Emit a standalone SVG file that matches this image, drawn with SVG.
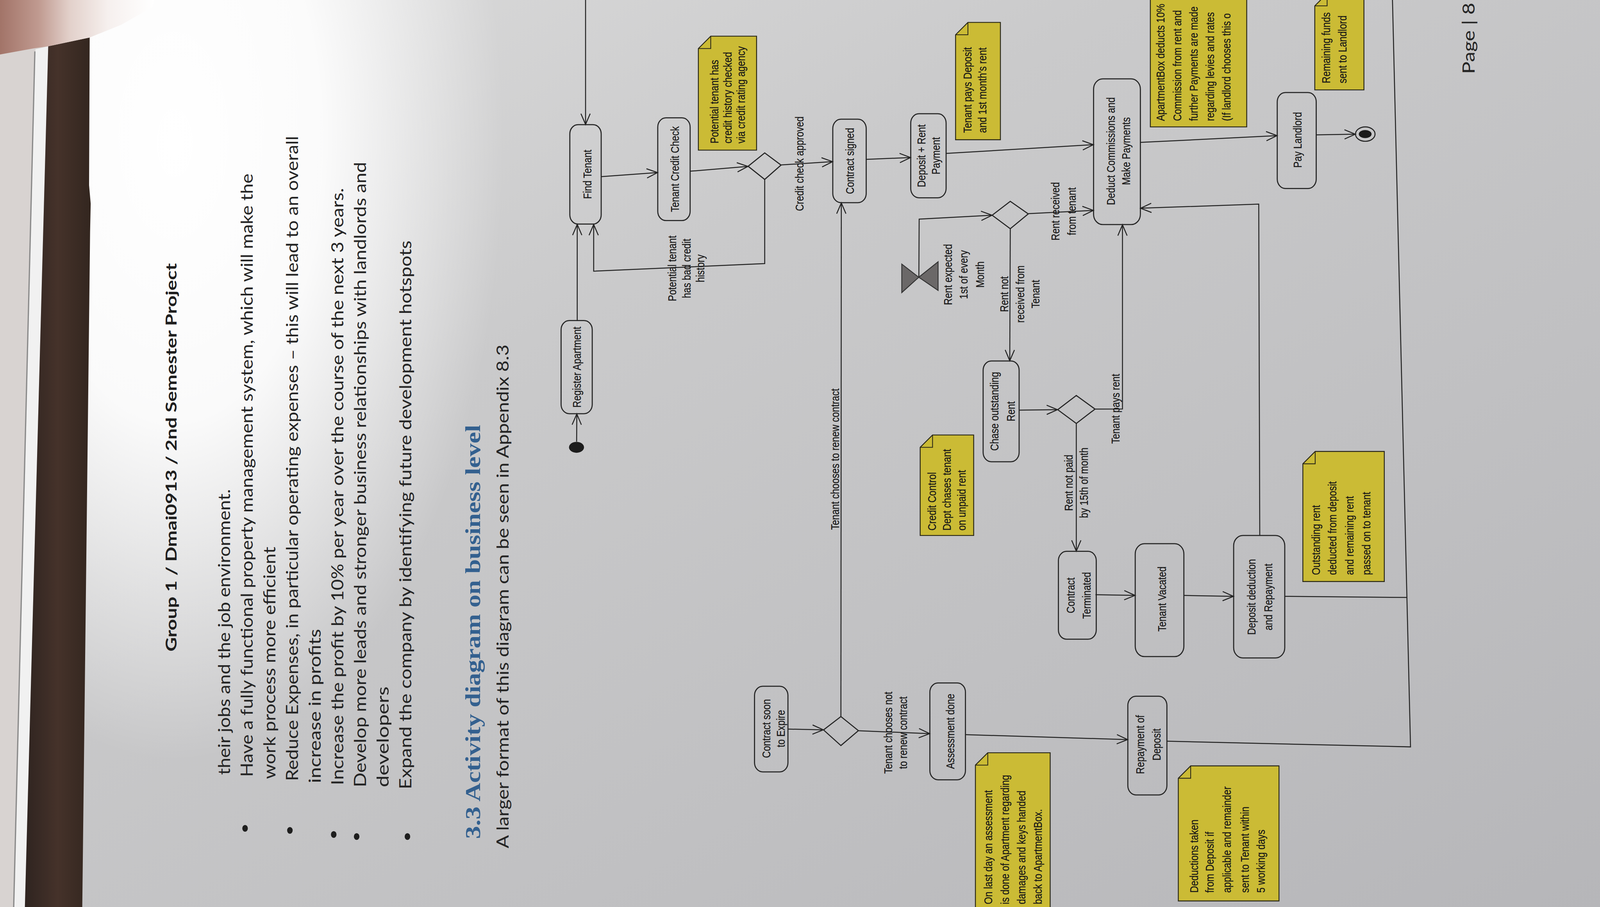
<svg xmlns="http://www.w3.org/2000/svg" width="4128" height="2322" viewBox="0 0 4128 2322">
<defs>
<style>
.nd rect{fill:none;stroke:#262626;stroke-width:1.05}
.dm{fill:none;stroke:#262626;stroke-width:1.05}
.nb{fill:#cbbb35;stroke:#2a2818;stroke-width:0.9}
.nf{fill:none;stroke:#2a2818;stroke-width:0.8}
.dt{font-family:"Liberation Sans",Arial,sans-serif;font-size:11.5px;fill:#161616;stroke:#161616;stroke-width:0.12}
.cn path{fill:none;stroke:#232323;stroke-width:0.95}
.body{font-family:Lato,"Open Sans",sans-serif;font-size:16.5px;fill:#242424}
.hdr{font-family:Lato,"Open Sans",sans-serif;font-size:14.5px;font-weight:bold;fill:#1e1e1e}
.h2{font-family:"Liberation Serif","Times New Roman",serif;font-size:21px;font-weight:bold;fill:#33608f}
</style>
<linearGradient id="paperG" x1="0" y1="0" x2="1" y2="1">
<stop offset="0" stop-color="#dedede"/>
<stop offset="0.35" stop-color="#cacacb"/>
<stop offset="1" stop-color="#b6b6b9"/>
</linearGradient>
<radialGradient id="glare" cx="0.5" cy="0.5" r="0.5">
<stop offset="0" stop-color="#ffffff" stop-opacity="1"/>
<stop offset="0.45" stop-color="#ffffff" stop-opacity="0.9"/>
<stop offset="0.75" stop-color="#ffffff" stop-opacity="0.4"/>
<stop offset="1" stop-color="#ffffff" stop-opacity="0"/>
</radialGradient>
<linearGradient id="brownG" x1="0" y1="0" x2="1" y2="0">
<stop offset="0" stop-color="#2f2420"/>
<stop offset="0.5" stop-color="#45322a"/>
<stop offset="1" stop-color="#33261f"/>
</linearGradient>
<linearGradient id="skinG" x1="0" y1="0" x2="1" y2="0">
<stop offset="0" stop-color="#a27468"/>
<stop offset="0.25" stop-color="#c09a90"/>
<stop offset="0.45" stop-color="#e2d0ca"/>
<stop offset="0.7" stop-color="#f6f0ee"/>
<stop offset="1" stop-color="#ffffff"/>
</linearGradient>
<marker id="arr" markerUnits="userSpaceOnUse" markerWidth="14" markerHeight="12" refX="10.5" refY="4.5" orient="auto" overflow="visible">
<path d="M0,0 L10.5,4.5 L0,9" fill="none" stroke="#232323" stroke-width="0.95"/>
</marker>
</defs>
<g transform="scale(2.632653)">
<g id="photo-background">
<rect x="0" y="0" width="1568" height="882" fill="url(#paperG)"/>
<ellipse cx="170" cy="140" rx="320" ry="600" fill="url(#glare)"/>
<rect x="0" y="0" width="50" height="882" fill="#d8d3d1"/>
<polygon points="34.5,48 46.9,45 24.2,882 14,882" fill="#f1f1f1"/>
<line x1="33.9" y1="50" x2="13.3" y2="882" stroke="#8a8a8a" stroke-width="1.2"/>
<polygon points="46.9,45 87.2,36.5 86.6,180 88.2,198 87.6,226 80,882 24.2,882" fill="url(#brownG)"/>
<path d="M0,0 L150,0 L148,7 L118,24 L87.2,36.5 L46.9,45 L33,47 L0,53 Z" fill="url(#skinG)"/>
</g>
<g id="text-block">
<text class="hdr" transform="translate(0,633.6) rotate(-90)" x="0" y="171.5" textLength="377.7" lengthAdjust="spacingAndGlyphs">Group 1 / Dmai0913 / 2nd Semester Project</text>
<text class="body" transform="translate(0,753.5) rotate(-90)" x="0" y="223.9" textLength="277.8" lengthAdjust="spacingAndGlyphs">their jobs and the job environment.</text>
<text class="body" transform="translate(0,755.5) rotate(-90)" x="0" y="245.9" textLength="586.7" lengthAdjust="spacingAndGlyphs">Have a fully functional property management system, which will make the</text>
<text class="body" transform="translate(0,757.5) rotate(-90)" x="0" y="267.9" textLength="225.8" lengthAdjust="spacingAndGlyphs">work process more efficient</text>
<text class="body" transform="translate(0,759.5) rotate(-90)" x="0" y="289.9" textLength="627.3" lengthAdjust="spacingAndGlyphs">Reduce Expenses, in particular operating expenses –  this will lead to an overall</text>
<text class="body" transform="translate(0,761.5) rotate(-90)" x="0" y="311.9" textLength="149.9" lengthAdjust="spacingAndGlyphs">increase in profits</text>
<text class="body" transform="translate(0,763.5) rotate(-90)" x="0" y="333.9" textLength="580.7" lengthAdjust="spacingAndGlyphs">Increase the profit by 10% per year over the course of the next 3 years.</text>
<text class="body" transform="translate(0,765.5) rotate(-90)" x="0" y="355.9" textLength="608" lengthAdjust="spacingAndGlyphs">Develop more leads and stronger business relationships with landlords and</text>
<text class="body" transform="translate(0,765.5) rotate(-90)" x="0" y="377.9" textLength="97.9" lengthAdjust="spacingAndGlyphs">developers</text>
<text class="body" transform="translate(0,767.5) rotate(-90)" x="0" y="399.9" textLength="533.6" lengthAdjust="spacingAndGlyphs">Expand the company by identifying future development hotspots</text>
<g fill="#1e1e1e">
<ellipse cx="238.3" cy="805.5" rx="2.7" ry="3.3"/>
<ellipse cx="281.9" cy="807.5" rx="2.7" ry="3.3"/>
<ellipse cx="324.5" cy="811.5" rx="2.7" ry="3.3"/>
<ellipse cx="346.8" cy="813.5" rx="2.7" ry="3.3"/>
<ellipse cx="396.2" cy="813.5" rx="2.7" ry="3.3"/>
</g>
<text class="h2" transform="translate(0,815.8) rotate(-90)" x="0" y="467" textLength="402.7" lengthAdjust="spacingAndGlyphs">3.3 Activity diagram on business level</text>
<text class="body" transform="translate(0,824.9) rotate(-90)" x="0" y="494.5" textLength="489.9" lengthAdjust="spacingAndGlyphs">A larger format of this diagram can be seen in Appendix 8.3</text>
<text class="body" transform="translate(0,71.9) rotate(-90)" x="0" y="1434" textLength="69.2" lengthAdjust="spacingAndGlyphs">Page | 8</text>
</g>
<g id="connectors" class="cn">
<path marker-end="url(#arr)" d="M560.7,429.5 L560.9,402.5"/>
<path marker-end="url(#arr)" d="M561.3,311.7 L561.3,218.2"/>
<path marker-end="url(#arr)" d="M569.4,-2 L569.4,121"/>
<path marker-end="url(#arr)" d="M584.6,171.8 L639.4,167.8"/>
<path marker-end="url(#arr)" d="M671.1,166.5 L727.3,161.8"/>
<path marker-end="url(#arr)" d="M759.5,160.4 L809.6,157.2"/>
<path marker-end="url(#arr)" d="M743.6,174.5 L743.6,256.3 L577.3,263.7 L577.3,218.3"/>
<path marker-end="url(#arr)" d="M842.3,155 L885.4,153.2"/>
<path marker-end="url(#arr)" d="M920,149.2 L1063.2,140.7"/>
<path marker-end="url(#arr)" d="M1108.9,138.5 L1241.8,131.9"/>
<path marker-end="url(#arr)" d="M1279.9,131.1 L1317.9,130.5"/>
<path marker-end="url(#arr)" d="M893.5,269.6 L893.8,213.1 L964.6,209.3"/>
<path marker-end="url(#arr)" d="M999.9,207.8 L1063.2,204.6"/>
<path marker-end="url(#arr)" d="M982.4,222.4 L981.9,350.8"/>
<path marker-end="url(#arr)" d="M990.9,398.8 L1028.3,398.4"/>
<path marker-end="url(#arr)" d="M1064.8,397.8 L1091.5,397.7 L1091.5,218.6"/>
<path marker-end="url(#arr)" d="M1046.6,411.8 L1046.6,535.9"/>
<path marker-end="url(#arr)" d="M1065.2,578.3 L1103.7,579"/>
<path marker-end="url(#arr)" d="M1151.2,579 L1199.4,579.9"/>
<path marker-end="url(#arr)" d="M1225,520.7 L1224,198.5 L1109.1,202.5"/>
<path d="M1249.3,579.9 L1368.3,581"/>
<path marker-end="url(#arr)" d="M766.2,709 L800.6,709.7"/>
<path marker-end="url(#arr)" d="M817.7,696.8 L818.1,197.3"/>
<path marker-end="url(#arr)" d="M834.7,710.6 L904,713.4"/>
<path marker-end="url(#arr)" d="M938.8,714.4 L1096.5,719.2"/>
<path d="M1134.7,720.8 L1371.6,726.3 L1354,-2"/>
</g>
<g id="labels" class="dt">
<text text-anchor="middle" transform="translate(0,261) rotate(-90) scale(0.8,1)"><tspan x="0" y="657.5">Potential tenant</tspan><tspan x="0" y="671.5">has bad credit</tspan><tspan x="0" y="684.8">history</tspan></text>
<text text-anchor="middle" transform="translate(0,159.2) rotate(-90) scale(0.8,1)"><tspan x="0" y="781.5">Credit check approved</tspan></text>
<text text-anchor="middle" transform="translate(0,267) rotate(-90) scale(0.8,1)"><tspan x="0" y="925.5">Rent expected</tspan><tspan x="0" y="941">1st of every</tspan><tspan x="0" y="957">Month</tspan></text>
<text text-anchor="middle" transform="translate(0,286) rotate(-90) scale(0.8,1)"><tspan x="0" y="980.5">Rent not</tspan><tspan x="0" y="996">received from</tspan><tspan x="0" y="1010.8">Tenant</tspan></text>
<text text-anchor="middle" transform="translate(0,205.5) rotate(-90) scale(0.8,1)"><tspan x="0" y="1030">Rent received</tspan><tspan x="0" y="1046">from tenant</tspan></text>
<text text-anchor="middle" transform="translate(0,397.5) rotate(-90) scale(0.8,1)"><tspan x="0" y="1088.5">Tenant pays rent</tspan></text>
<text text-anchor="middle" transform="translate(0,469.5) rotate(-90) scale(0.8,1)"><tspan x="0" y="1043">Rent not paid</tspan><tspan x="0" y="1058">by 15th of month</tspan></text>
<text text-anchor="middle" transform="translate(0,446.5) rotate(-90) scale(0.8,1)"><tspan x="0" y="816">Tenant chooses to renew contract</tspan></text>
<text text-anchor="middle" transform="translate(0,712.5) rotate(-90) scale(0.8,1)"><tspan x="0" y="867.5">Tenant chooses not</tspan><tspan x="0" y="882">to renew contract</tspan></text>
</g>
<g id="start-node"><ellipse cx="560.6" cy="435" rx="7.3" ry="5.3" fill="#1c1c1c"/></g>
<g id="end-node"><ellipse cx="1327.6" cy="130.4" rx="9.5" ry="7" fill="none" stroke="#222" stroke-width="1"/><ellipse cx="1327.5" cy="130.4" rx="6.2" ry="3.9" fill="#1a1a1a"/></g>
<g id="timer-event"><polygon points="876.9,256.8 893.4,269.6 876.9,284.5" fill="#6b6868" stroke="#333" stroke-width="0.9"/><polygon points="912.2,254.6 912.2,282.4 893.4,269.6" fill="#6b6868" stroke="#333" stroke-width="0.9"/></g>
<g id="decision-credit"><polygon class="dm" points="727.5,161.7 743.6,148.7 759.5,160.5 743.6,174.5"/></g>
<g id="decision-rent"><polygon class="dm" points="964.8,209.3 982.4,195.8 999.9,208 982.4,222.4"/></g>
<g id="decision-chase"><polygon class="dm" points="1028.5,398.4 1046.6,384.6 1064.8,397.8 1046.6,411.8"/></g>
<g id="decision-expire"><polygon class="dm" points="800.8,709.8 817.7,696.8 834.7,710.5 817.7,725"/></g>
<g id="register-apartment" class="nd"><rect x="545.6" y="311.7" width="30.3" height="90.6" rx="8" ry="9"/><text class="dt" text-anchor="middle" transform="translate(0,357) rotate(-90) scale(0.8,1)"><tspan x="0" y="565">Register Apartment</tspan></text></g>
<g id="find-tenant" class="nd"><rect x="554.1" y="121.2" width="30.5" height="96.7" rx="8" ry="9"/><text class="dt" text-anchor="middle" transform="translate(0,169.5) rotate(-90) scale(0.8,1)"><tspan x="0" y="575">Find Tenant</tspan></text></g>
<g id="tenant-credit-check" class="nd"><rect x="639.6" y="114.6" width="31.5" height="99.9" rx="8" ry="9"/><text class="dt" text-anchor="middle" transform="translate(0,164.5) rotate(-90) scale(0.8,1)"><tspan x="0" y="660">Tenant Credit Check</tspan></text></g>
<g id="contract-signed" class="nd"><rect x="809.8" y="115.9" width="32.5" height="81.2" rx="8" ry="9"/><text class="dt" text-anchor="middle" transform="translate(0,156.5) rotate(-90) scale(0.8,1)"><tspan x="0" y="830.5">Contract signed</tspan></text></g>
<g id="deposit-rent-payment" class="nd"><rect x="885.6" y="110.6" width="34.4" height="81.7" rx="8" ry="9"/><text class="dt" text-anchor="middle" transform="translate(0,151.5) rotate(-90) scale(0.8,1)"><tspan x="0" y="900">Deposit + Rent</tspan><tspan x="0" y="914">Payment</tspan></text></g>
<g id="deduct-commissions" class="nd"><rect x="1063.4" y="76.7" width="45.5" height="141.7" rx="9" ry="10"/><text class="dt" text-anchor="middle" transform="translate(0,147) rotate(-90) scale(0.8,1)"><tspan x="0" y="1084">Deduct Commissions and</tspan><tspan x="0" y="1099">Make Payments</tspan></text></g>
<g id="pay-landlord" class="nd"><rect x="1242" y="90" width="37.9" height="93.3" rx="8" ry="9"/><text class="dt" text-anchor="middle" transform="translate(0,136) rotate(-90) scale(0.8,1)"><tspan x="0" y="1265.5">Pay Landlord</tspan></text></g>
<g id="chase-outstanding-rent" class="nd"><rect x="956" y="351" width="35" height="98" rx="8" ry="9"/><text class="dt" text-anchor="middle" transform="translate(0,400) rotate(-90) scale(0.8,1)"><tspan x="0" y="971">Chase outstanding</tspan><tspan x="0" y="987">Rent</tspan></text></g>
<g id="contract-terminated" class="nd"><rect x="1029.2" y="536.1" width="36.8" height="85.5" rx="8" ry="9"/><text class="dt" text-anchor="middle" transform="translate(0,579) rotate(-90) scale(0.8,1)"><tspan x="0" y="1045">Contract</tspan><tspan x="0" y="1060.5">Terminated</tspan></text></g>
<g id="tenant-vacated" class="nd"><rect x="1103.9" y="528.7" width="47.3" height="109.8" rx="9" ry="10"/><text class="dt" text-anchor="middle" transform="translate(0,582.5) rotate(-90) scale(0.8,1)"><tspan x="0" y="1134">Tenant Vacated</tspan></text></g>
<g id="deposit-deduction" class="nd"><rect x="1199.6" y="520.7" width="49.7" height="119.1" rx="9" ry="10"/><text class="dt" text-anchor="middle" transform="translate(0,580.5) rotate(-90) scale(0.8,1)"><tspan x="0" y="1221">Deposit deduction</tspan><tspan x="0" y="1237">and Repayment</tspan></text></g>
<g id="contract-soon-expire" class="nd"><rect x="733.7" y="667.3" width="32.5" height="83.3" rx="8" ry="9"/><text class="dt" text-anchor="middle" transform="translate(0,708.5) rotate(-90) scale(0.8,1)"><tspan x="0" y="749">Contract soon</tspan><tspan x="0" y="763">to Expire</tspan></text></g>
<g id="assessment-done" class="nd"><rect x="904.2" y="664.1" width="34.6" height="94.2" rx="8" ry="9"/><text class="dt" text-anchor="middle" transform="translate(0,711.2) rotate(-90) scale(0.8,1)"><tspan x="0" y="928">Assessment done</tspan></text></g>
<g id="repayment-deposit" class="nd"><rect x="1096.7" y="677" width="38" height="96" rx="8" ry="9"/><text class="dt" text-anchor="middle" transform="translate(0,724) rotate(-90) scale(0.8,1)"><tspan x="0" y="1112.5">Repayment of</tspan><tspan x="0" y="1128.5">Deposit</tspan></text></g>
<g id="note-credit-check"><path class="nb" d="M679.1,47.2 L691.1,35.2 L735.7,35.2 L735.7,146 L679.1,146 Z"/><path class="nf" d="M679.1,47.2 L691.1,47.2 L691.1,35.2"/><text class="dt" transform="translate(0,139.5) rotate(-90) scale(0.8,1)"><tspan x="0" y="698.5">Potential tenant has</tspan><tspan x="0" y="711.5">credit history checked</tspan><tspan x="0" y="724.5">via credit rating agency</tspan></text></g>
<g id="note-deposit"><path class="nb" d="M929.2,33.8 L941.2,21.8 L972.8,21.8 L972.8,135.9 L929.2,135.9 Z"/><path class="nf" d="M929.2,33.8 L941.2,33.8 L941.2,21.8"/><text class="dt" transform="translate(0,129.2) rotate(-90) scale(0.8,1)"><tspan x="0" y="944.5">Tenant pays Deposit</tspan><tspan x="0" y="959">and 1st month's rent</tspan></text></g>
<g id="note-credit-control"><path class="nb" d="M894.8,435 L906.8,423 L946.8,423 L946.8,520.7 L894.8,520.7 Z"/><path class="nf" d="M894.8,435 L906.8,435 L906.8,423"/><text class="dt" transform="translate(0,515.9) rotate(-90) scale(0.8,1)"><tspan x="0" y="910">Credit Control</tspan><tspan x="0" y="924.5">Dept chases tenant</tspan><tspan x="0" y="939">on unpaid rent</tspan></text></g>
<g id="note-assessment"><path class="nb" d="M948.5,744 L960.5,732 L1021.2,732 L1021.2,895 L948.5,895 Z"/><path class="nf" d="M948.5,744 L960.5,744 L960.5,732"/><text class="dt" transform="translate(0,879.3) rotate(-90) scale(0.8,1)"><tspan x="0" y="965">On last day an assessment</tspan><tspan x="0" y="981">is done of Apartment regarding</tspan><tspan x="0" y="997">damages and keys handed</tspan><tspan x="0" y="1013">back to ApartmentBox.</tspan></text></g>
<g id="note-outstanding-rent"><path class="nb" d="M1266.9,451 L1278.9,439 L1346.1,439 L1346.1,565.5 L1266.9,565.5 Z"/><path class="nf" d="M1266.9,451 L1278.9,451 L1278.9,439"/><text class="dt" transform="translate(0,559.1) rotate(-90) scale(0.8,1)"><tspan x="0" y="1283.5">Outstanding rent</tspan><tspan x="0" y="1299.5">deducted from deposit</tspan><tspan x="0" y="1316">and remaining rent</tspan><tspan x="0" y="1332.5">passed on to tenant</tspan></text></g>
<g id="note-deductions"><path class="nb" d="M1145.8,756.8 L1157.8,744.8 L1243.7,744.8 L1243.7,876.1 L1145.8,876.1 Z"/><path class="nf" d="M1145.8,756.8 L1157.8,756.8 L1157.8,744.8"/><text class="dt" transform="translate(0,868.1) rotate(-90) scale(0.8,1)"><tspan x="0" y="1165">Deductions taken</tspan><tspan x="0" y="1180">from Deposit if</tspan><tspan x="0" y="1197">applicable and remainder</tspan><tspan x="0" y="1214.5">sent to Tenant within</tspan><tspan x="0" y="1230">5 working days</tspan></text></g>
<g id="note-commission"><path class="nb" d="M1118.6,-18 L1130.6,-30 L1212.3,-30 L1212.3,123.4 L1118.6,123.4 Z"/><text class="dt" transform="translate(0,117.7) rotate(-90) scale(0.8,1)"><tspan x="0" y="1132.5">ApartmentBox deducts 10%</tspan><tspan x="0" y="1148.5">Commission from rent and</tspan><tspan x="0" y="1164.5">further Payments are made</tspan><tspan x="0" y="1180.5">regarding levies and rates</tspan><tspan x="0" y="1196.5">(If landlord chooses this o</tspan></text></g>
<g id="note-remaining-funds"><path class="nb" d="M1278.5,5.7 L1290.5,-6.3 L1326.3,-6.3 L1326.3,87.4 L1278.5,87.4 Z"/><path class="nf" d="M1278.5,5.7 L1290.5,5.7 L1290.5,-6.3"/><text class="dt" transform="translate(0,81) rotate(-90) scale(0.8,1)"><tspan x="0" y="1293.5">Remaining funds</tspan><tspan x="0" y="1309.5">sent to Landlord</tspan></text></g>
</g>
</svg>
